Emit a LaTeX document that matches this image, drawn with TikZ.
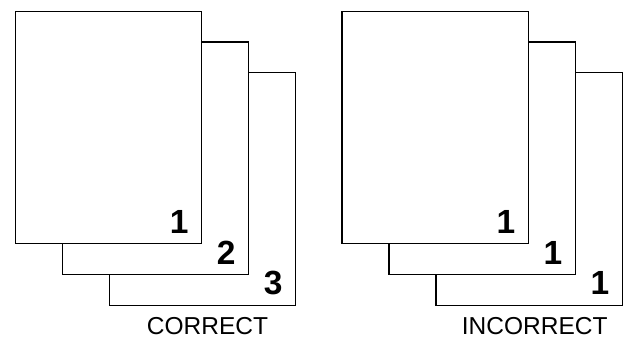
\documentclass[tikz,border=0pt]{standalone}
\usepackage{fontspec}
\setmainfont{Liberation Sans}
\begin{document}
\begin{tikzpicture}[x=1pt,y=-1pt,
  page/.style={draw=black,fill=white,line width=1.2pt,minimum width=186.5pt,minimum height=232.5pt,inner sep=0pt,anchor=north west},
  pnum/.style={font=\fontsize{33.5}{33.5}\selectfont\bfseries,inner sep=0pt,anchor=base east},
  caption/.style={font=\fontsize{24.5}{24.5}\selectfont,inner sep=0pt,anchor=base}]
\useasboundingbox (0,0) rectangle (626,337);
% left group
\node[page] (L3) at (108.5,72) {};
\node[page] (L2) at (61.5,41.5) {};
\node[page] (L1) at (14.5,10.7) {};
\node[pnum] (L1n) at ([xshift=-13.5pt,yshift=11pt]L1.south east) {1};
\node[pnum] (L2n) at ([xshift=-13.5pt,yshift=11pt]L2.south east) {2};
\node[pnum] (L3n) at ([xshift=-13.5pt,yshift=11pt]L3.south east) {3};
\node[caption] (Lc) at (207.5,334.3) {CORRECT};
% right group
\node[page] (R3) at (435.3,72) {};
\node[page] (R2) at (388.3,41.5) {};
\node[page] (R1) at (341.3,10.7) {};
\node[pnum] (R1n) at ([xshift=-13.5pt,yshift=11pt]R1.south east) {1};
\node[pnum] (R2n) at ([xshift=-13.5pt,yshift=11pt]R2.south east) {1};
\node[pnum] (R3n) at ([xshift=-13.5pt,yshift=11pt]R3.south east) {1};
\node[caption] (Rc) at (534.7,334.3) {INCORRECT};
\end{tikzpicture}
\end{document}
